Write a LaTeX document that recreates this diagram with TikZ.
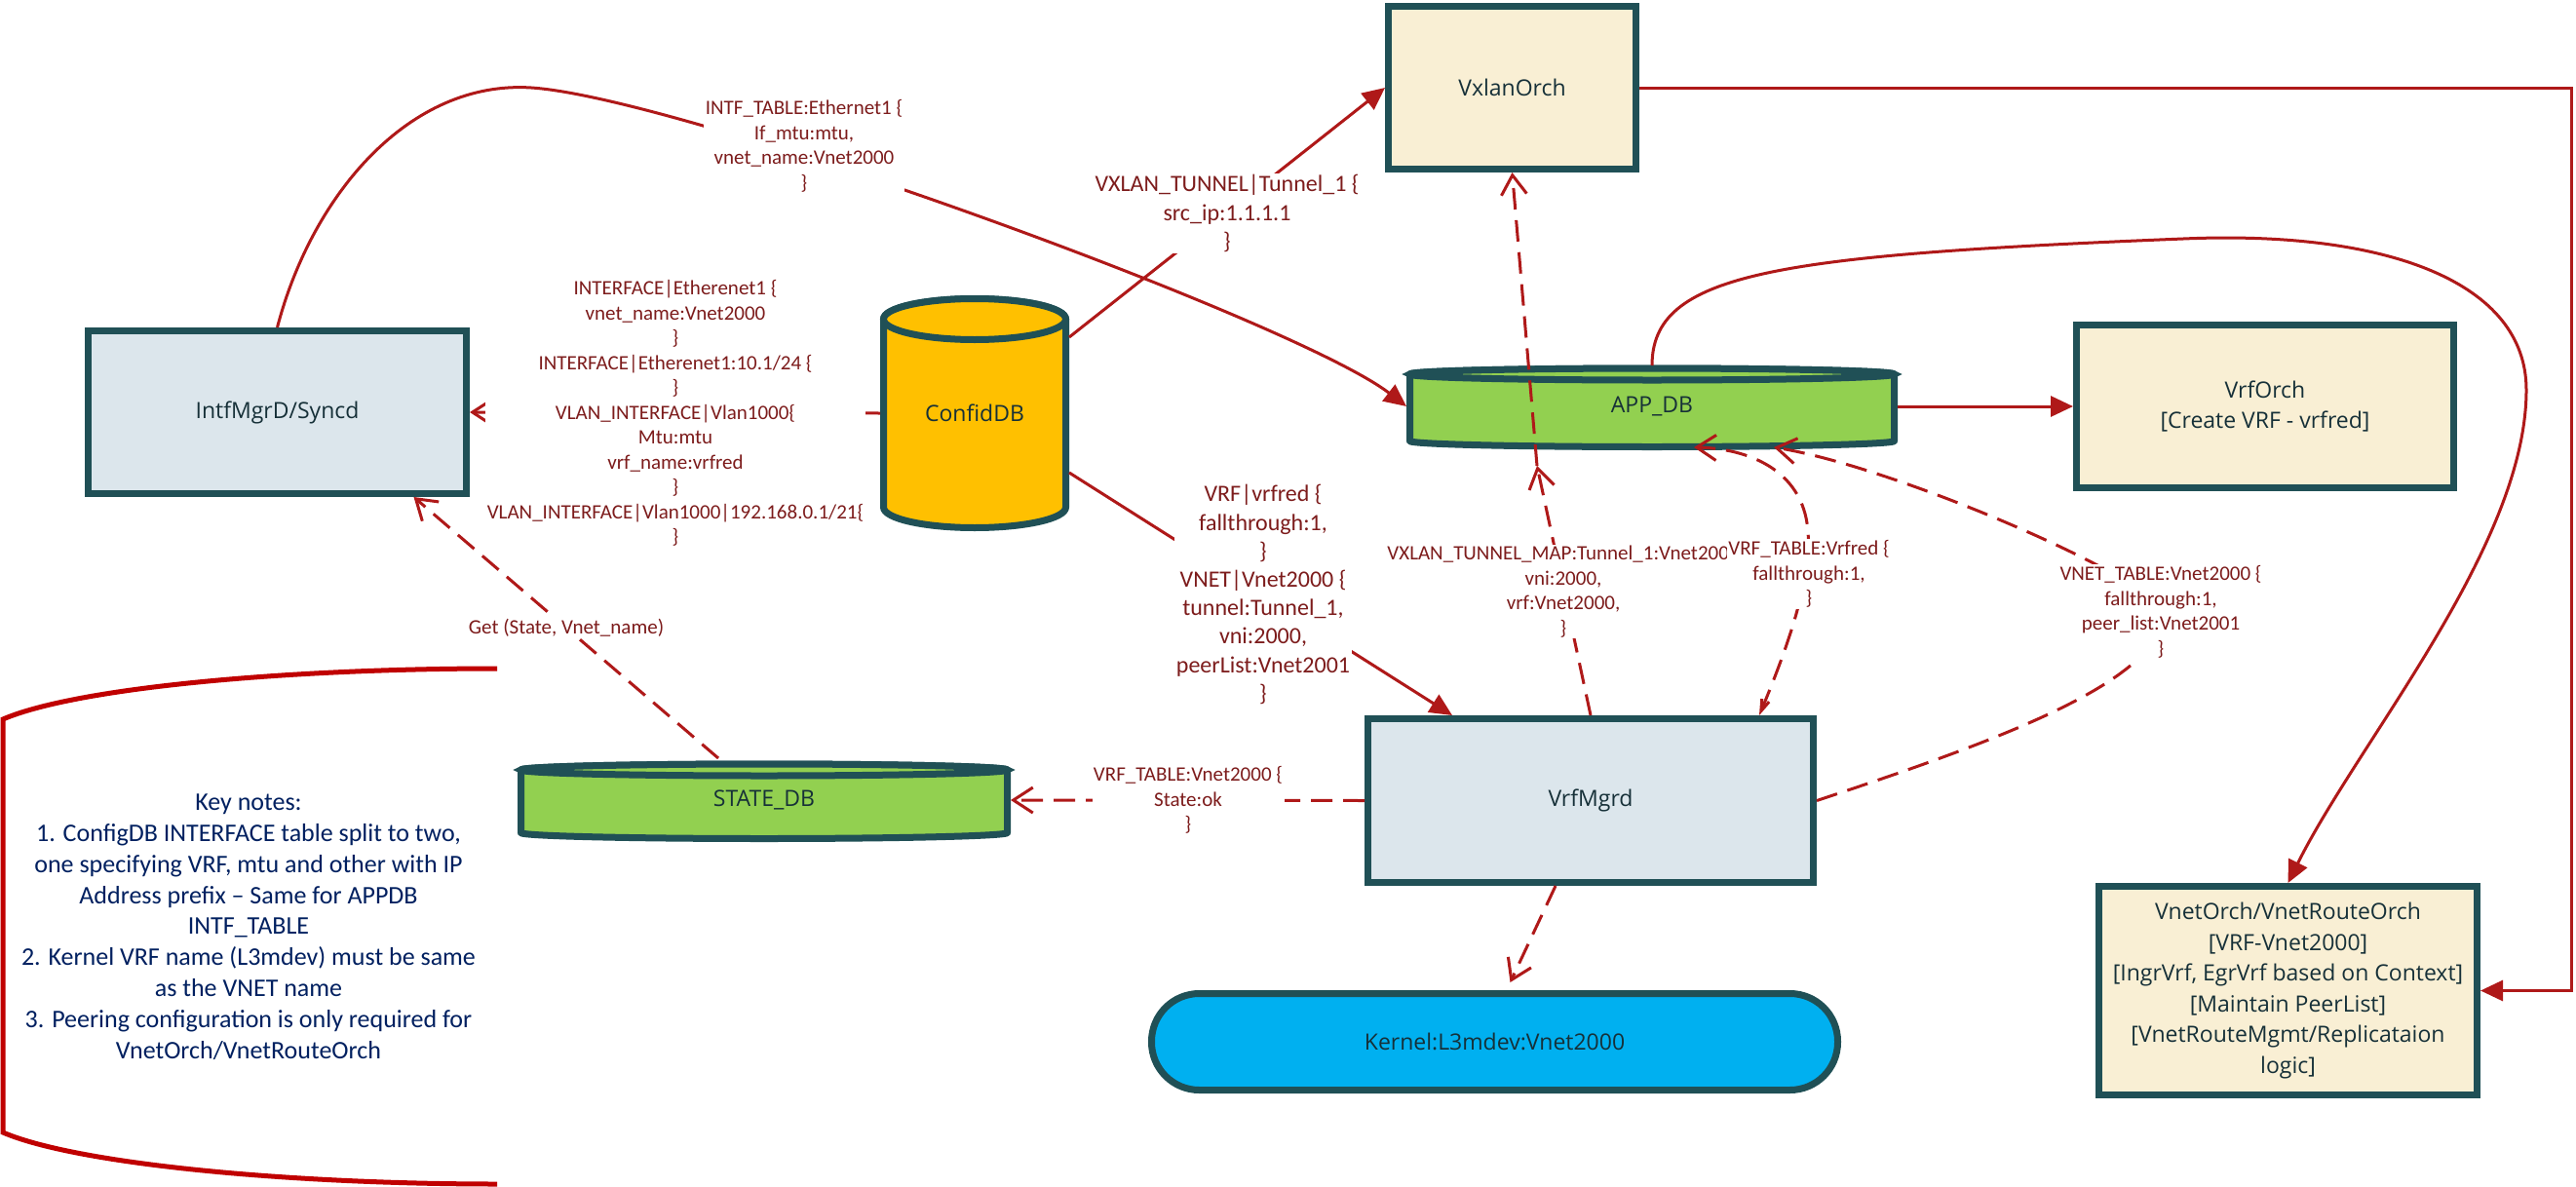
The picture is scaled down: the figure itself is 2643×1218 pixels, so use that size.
\documentclass[tikz,border=0pt]{standalone}
\usepackage{fontspec}
\setmainfont{Carlito}
\newfontfamily\nodefont{Open Sans}
\usetikzlibrary{arrows.meta,calc}
\definecolor{bord}{RGB}{32,80,86}
\definecolor{ntext}{RGB}{22,48,56}
\definecolor{ltext}{RGB}{125,28,28}
\definecolor{lred}{RGB}{175,25,25}
\definecolor{keyred}{RGB}{192,0,0}
\definecolor{keyblue}{RGB}{0,32,96}
\definecolor{boxblue}{RGB}{220,230,236}
\definecolor{cream}{RGB}{249,239,212}
\definecolor{dbgreen}{RGB}{146,208,80}
\definecolor{gold}{RGB}{255,192,0}
\definecolor{kblue}{RGB}{0,176,240}
\newcommand\drawcyl[6]{%
  \pgfmathsetmacro\cylxc{(#1+#2)/2}%
  \pgfmathsetmacro\cylrx{(#2-#1)/2}%
  \pgfmathsetmacro\cylkx{0.5523*\cylrx}%
  \pgfmathsetmacro\cylky{0.5523*#5}%
  \path[draw=bord, line width=7pt, fill=#6, line join=round]
    (#1,#3) -- (#1,#4)
    .. controls (#1,#4+\cylky) and (\cylxc-\cylkx,#4+#5) .. (\cylxc,#4+#5)
    .. controls (\cylxc+\cylkx,#4+#5) and (#2,#4+\cylky) .. (#2,#4)
    -- (#2,#3)
    .. controls (#2,#3-\cylky) and (\cylxc+\cylkx,#3-#5) .. (\cylxc,#3-#5)
    .. controls (\cylxc-\cylkx,#3-#5) and (#1,#3-\cylky) .. (#1,#3) -- cycle;
  \path[draw=bord, line width=7pt, fill=#6] (\cylxc,#3) ellipse [x radius=\cylrx, y radius=#5];
}
\begin{document}
\begin{tikzpicture}[x=1pt,y=-1pt,
  box/.style={draw=bord, line width=7pt, fill=#1, text=ntext, font=\nodefont\fontsize{23}{31.5}\selectfont, align=center, inner sep=0pt},
  cyltext/.style={text=ntext, font=\nodefont\fontsize{23}{31.5}\selectfont, inner sep=0pt, outer sep=0pt},
  lbl/.style={text=ltext, align=center, fill=white, inner sep=1.5pt, font=\fontsize{21}{25.5}\selectfont},
  lblbig/.style={lbl, font=\fontsize{24}{29.2}\selectfont},
  conn/.style={draw=lred, line width=3pt},
  solidarrow/.style={conn, -{Triangle[length=23pt,width=21pt]}},
  barb/.style={-{Straight Barb[length=20pt,width=26pt]}},
  dasharrow/.style={conn, dash pattern=on 22pt off 11pt, barb},
]
\fill[white] (0,0) rectangle (2643,1218);
\useasboundingbox (0,0) rectangle (2643,1218);

% boxes
\node[box=boxblue, minimum width=388pt, minimum height=167pt] (intf) at (284.5,423) {IntfMgrD/Syncd};
\node[box=cream, minimum width=254pt, minimum height=167pt] (vxlan) at (1551.5,90) {VxlanOrch};
\node[box=cream, minimum width=387pt, minimum height=167pt] (vrforch) at (2324,417) {VrfOrch\\\relax[Create VRF - vrfred]};
\node[box=boxblue, minimum width=457pt, minimum height=168pt] (vrfmgrd) at (1632,821.5) {VrfMgrd};
\node[box=cream, minimum width=388pt, minimum height=214pt] (vnetorch) at (2347.5,1016.5) {VnetOrch/VnetRouteOrch\\\relax[VRF-Vnet2000]\\\relax[IngrVrf, EgrVrf based on Context]\\\relax[Maintain PeerList]\\\relax[VnetRouteMgmt/Replicataion\\logic]};
\node[box=kblue, minimum width=704pt, minimum height=99pt, rounded corners=49pt] (kernel) at (1533.5,1069) {Kernel:L3mdev:Vnet2000};

% cylinders
\drawcyl{906.5}{1093.5}{327.5}{520.5}{21}{gold}
\drawcyl{1446.5}{1943.5}{384}{452.5}{6}{dbgreen}
\drawcyl{534.5}{1033.5}{790}{854.5}{6}{dbgreen}
\node[cyltext, minimum width=194pt, minimum height=242pt] (confid) at (1000,424) {ConfidDB};
\node[cyltext, minimum width=504pt, minimum height=84pt] (appdb) at (1695,417) {APP\_DB};
\node[cyltext, minimum width=506pt, minimum height=86pt] (statedb) at (784,821) {STATE\_DB};

% solid connectors
\draw[conn, barb] (confid.west) -- (intf.east);
\draw[solidarrow] ([yshift=78pt]confid.east) -- (vxlan.west);
\draw[solidarrow] ([yshift=-61pt]confid.east) -- ([xshift=-142pt]vrfmgrd.north);
\draw[solidarrow] (intf.north) .. controls (320,200) and (420,82) .. (545,90) .. controls (700,100) and (1330,330) .. (appdb.west);
\draw[solidarrow] (vxlan.east) -| ([xshift=93pt]vnetorch.east) -- (vnetorch.east);
\draw[solidarrow] (appdb.east) -- (vrforch.west);
\draw[solidarrow] (appdb.north) .. controls (1695,280) and (1820,262) .. (2240,245) .. controls (2450,236) and (2592,290) .. (2592,400) .. controls (2592,560) and (2420,760) .. (vnetorch.north);

% dashed connectors
\coordinate (mapj) at (1577,478);
\draw[dasharrow] (vrfmgrd.north) -- (mapj);
\draw[dasharrow] (mapj) -- (vxlan.south);
\draw[dasharrow, {Straight Barb[length=12pt,width=8pt]}-{Straight Barb[length=20pt,width=26pt]}] ([xshift=173pt]vrfmgrd.north) .. controls (1840,650) and (1858,590) .. (1855,545) .. controls (1850,480) and (1790,460) .. ([xshift=43pt]appdb.south);
\draw[dasharrow] (vrfmgrd.east) .. controls (2050,760) and (2215,700) .. (2220,630) .. controls (2222,600) and (1950,480) .. ([xshift=125pt]appdb.south);
\draw[dasharrow] (vrfmgrd.west) -- (statedb.east);
\draw[dasharrow] ([xshift=-36pt]vrfmgrd.south) -- ([xshift=16pt,yshift=8pt]kernel.north);
\draw[dasharrow] ([xshift=-47pt]statedb.north) -- ([xshift=140pt]intf.south);

% labels
\node[lbl] (lintf) at (825,150) {INTF\_TABLE:Ethernet1 \{\\If\_mtu:mtu,\\vnet\_name:Vnet2000\\\}};
\node[lblbig] (lvxlan) at (1259,219) {VXLAN\_TUNNEL|Tunnel\_1 \{\\src\_ip:1.1.1.1\\\}};
\node[lbl] (liface) at (693,424) {INTERFACE|Etherenet1 \{\\vnet\_name:Vnet2000\\\}\\INTERFACE|Etherenet1:10.1/24 \{\\\}\\VLAN\_INTERFACE|Vlan1000\{\\Mtu:mtu\\vrf\_name:vrfred\\\}\\VLAN\_INTERFACE|Vlan1000|192.168.0.1/21\{\\\}};
\node[lblbig] (lvrf) at (1296,610) {VRF|vrfred \{\\fallthrough:1,\\\}\\VNET|Vnet2000 \{\\tunnel:Tunnel\_1,\\vni:2000,\\peerList:Vnet2001\\\}};
\node[lbl] (lmap) at (1604,607) {VXLAN\_TUNNEL\_MAP:Tunnel\_1:Vnet200\phantom{0}\\vni:2000,\\vrf:Vnet2000,\\\}};
\node[lbl] (lvrft) at (1856,589) {VRF\_TABLE:Vrfred \{\\fallthrough:1,\\\}};
\node[lbl] (lvnet) at (2217,628) {VNET\_TABLE:Vnet2000 \{\\fallthrough:1,\\peer\_list:Vnet2001\\\}};
\node[lbl] (lstate) at (1219,821) {VRF\_TABLE:Vnet2000 \{\\State:ok\\\}};
\node[lbl] (lget) at (581,644) {Get (State, Vnet\_name)};

% key notes
\draw[keyred, line width=5pt] (510,686) .. controls (300,686) and (80,705) .. (3,738) -- (3,1162) .. controls (80,1195) and (300,1215) .. (510,1215);
\node[text=keyblue, align=center, font=\fontsize{26}{31.8}\selectfont] (keynotes) at (255,951) {Key notes:\\1. ConfigDB INTERFACE table split to two,\\one specifying VRF, mtu and other with IP\\Address prefix -- Same for APPDB\\INTF\_TABLE\\2. Kernel VRF name (L3mdev) must be same\\as the VNET name\\3. Peering configuration is only required for\\VnetOrch/VnetRouteOrch};
\end{tikzpicture}
\end{document}
